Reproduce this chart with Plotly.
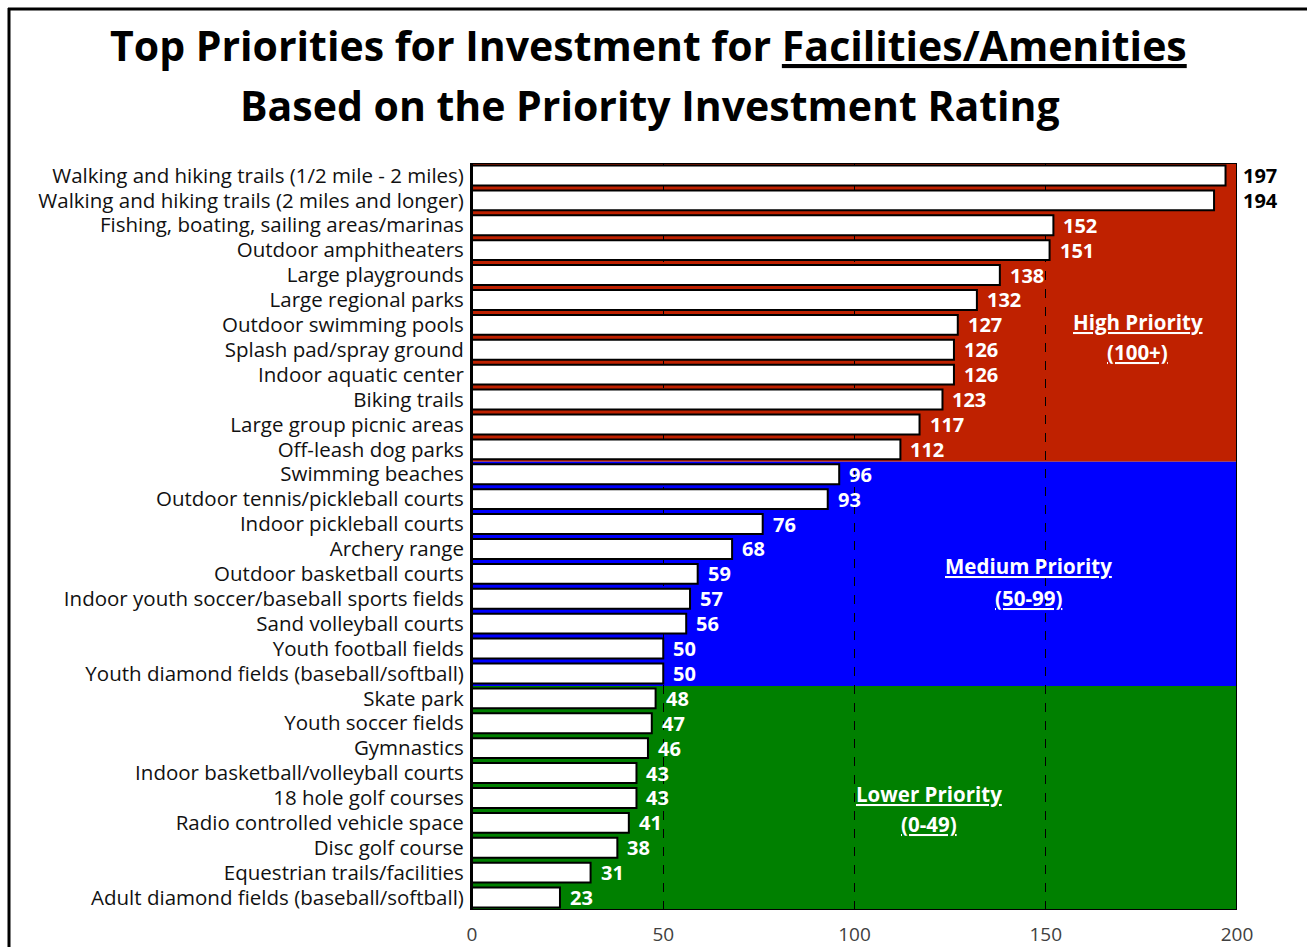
import plotly.graph_objects as go

categories = [
    "Walking and hiking trails (1/2 mile - 2 miles)",
    "Walking and hiking trails (2 miles and longer)",
    "Fishing, boating, sailing areas/marinas",
    "Outdoor amphitheaters",
    "Large playgrounds",
    "Large regional parks",
    "Outdoor swimming pools",
    "Splash pad/spray ground",
    "Indoor aquatic center",
    "Biking trails",
    "Large group picnic areas",
    "Off-leash dog parks",
    "Swimming beaches",
    "Outdoor tennis/pickleball courts",
    "Indoor pickleball courts",
    "Archery range",
    "Outdoor basketball courts",
    "Indoor youth soccer/baseball sports fields",
    "Sand volleyball courts",
    "Youth football fields",
    "Youth diamond fields (baseball/softball)",
    "Skate park",
    "Youth soccer fields",
    "Gymnastics",
    "Indoor basketball/volleyball courts",
    "18 hole golf courses",
    "Radio controlled vehicle space",
    "Disc golf course",
    "Equestrian trails/facilities",
    "Adult diamond fields (baseball/softball)",
]
values = [197, 194, 152, 151, 138, 132, 127, 126, 126, 123, 117, 112,
          96, 93, 76, 68, 59, 57, 56, 50, 50,
          48, 47, 46, 43, 43, 41, 38, 31, 23]

x_ticks = [0, 50, 100, 150, 200]
x_max = 200

bands = [  # (label, range label, lower bound, colour)
    ("High Priority", "(100+)", 100, "#BF2100"),
    ("Medium Priority", "(50-99)", 50, "#0000FF"),
    ("Lower Priority", "(0-49)", 0, "#008000"),
]
band_label_pos = [(174, 5.9, 7.1), (145.5, 15.7, 16.95), (119.5, 24.85, 26.05)]

FONT = "'Open Sans', Lato, sans-serif"

W_FIG, H_FIG = 1307, 947
L, R, T, B = 472, 70, 163, 37
PW, PH = W_FIG - L - R, H_FIG - T - B


def px_x(px):
    return (px - L) / PW


def px_y(py):
    return 1 - (py - T) / PH


n = len(categories)
idx = list(range(n))

fig = go.Figure()
fig.add_trace(go.Bar(
    x=values, y=idx, orientation="h",
    width=0.8,
    marker=dict(color="white", line=dict(color="black", width=2)),
    hoverinfo="x+text", hovertext=categories,
    showlegend=False,
))

shapes = []
annotations = []

# priority bands
for k, (name, rng, lo, col) in enumerate(bands):
    rows = [i for i, v in enumerate(values)
            if v >= lo and (k == 0 or v < bands[k - 1][2])]
    shapes.append(dict(type="rect", xref="x", yref="y", layer="below",
                       x0=0, x1=x_max, y0=min(rows) - 0.5, y1=max(rows) + 0.5,
                       fillcolor=col, line=dict(width=0)))
    bx, by1, by2 = band_label_pos[k]
    for txt, yy in ((name, by1), (rng, by2)):
        annotations.append(dict(
            x=bx, y=yy, xref="x", yref="y", showarrow=False,
            text="<span style='text-decoration:underline'><b>%s</b></span>" % txt,
            font=dict(family=FONT, size=20.5, color="white"),
            xanchor="center", yanchor="middle"))

# outline of plot area
shapes.append(dict(type="rect", xref="x", yref="y", layer="above",
                   x0=0, x1=x_max, y0=-0.5, y1=n - 0.5,
                   line=dict(color="black", width=2)))

# page border (left and top)
shapes.append(dict(type="line", xref="paper", yref="paper",
                   x0=px_x(9), x1=px_x(9), y0=px_y(8), y1=px_y(H_FIG + 5),
                   line=dict(color="black", width=3)))
shapes.append(dict(type="line", xref="paper", yref="paper",
                   x0=px_x(8), x1=px_x(W_FIG + 5), y0=px_y(9), y1=px_y(9),
                   line=dict(color="black", width=3)))

# value labels
for i, v in enumerate(values):
    outside = v > x_max - 12
    annotations.append(dict(
        x=x_max if outside else v, y=i, xref="x", yref="y", showarrow=False,
        text="<b>%d</b>" % v, xanchor="left", yanchor="middle",
        xshift=4 if outside else 8,
        font=dict(family=FONT, size=20, color="black" if outside else "white")))

# title
annotations.append(dict(
    x=px_x(648), y=px_y(45), xref="paper", yref="paper", showarrow=False,
    text="<b>Top Priorities for Investment for "
         "<span style='text-decoration:underline'>Facilities/Amenities</span></b>",
    font=dict(family=FONT, size=41, color="black"), xanchor="center", yanchor="middle"))
annotations.append(dict(
    x=px_x(650), y=px_y(105), xref="paper", yref="paper", showarrow=False,
    text="<b>Based on the Priority Investment Rating</b>",
    font=dict(family=FONT, size=41, color="black"), xanchor="center", yanchor="middle"))

fig.update_layout(
    width=W_FIG, height=H_FIG,
    margin=dict(l=L, r=R, t=T, b=B, autoexpand=False),
    paper_bgcolor="white", plot_bgcolor="white",
    font=dict(family=FONT, color="black"),
    shapes=shapes, annotations=annotations,
    bargap=0.2,
    xaxis=dict(range=[0, x_max], tickvals=x_ticks, showgrid=True,
               gridcolor="black", griddash="dash", gridwidth=1,
               zeroline=False, showline=False,
               ticks="outside", ticklen=7, tickcolor="rgba(0,0,0,0)",
               tickfont=dict(family=FONT, size=19, color="#404040"),
               fixedrange=True),
    yaxis=dict(range=[n - 0.5, -0.5], tickvals=idx, ticktext=categories,
               showgrid=False, zeroline=False, showline=True,
               linecolor="black", linewidth=2,
               ticks="outside", ticklen=2, tickcolor="rgba(0,0,0,0)",
               tickfont=dict(family=FONT, size=20.5, color="#111111"),
               fixedrange=True),
)

fig.write_html("out.html",
               config={"displayModeBar": False},
               post_script="document.body.style.margin='0';"
                           "document.body.style.overflow='hidden';")
